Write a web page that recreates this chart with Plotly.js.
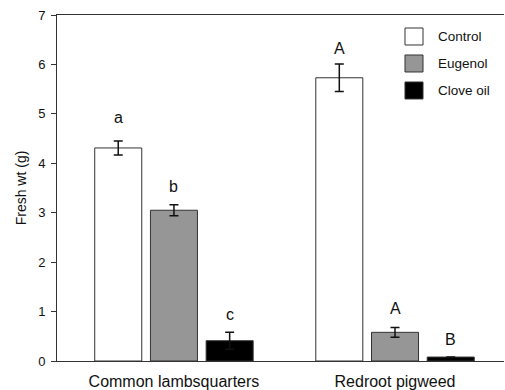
<!DOCTYPE html>
<html>
<head>
<meta charset="utf-8">
<script src="https://cdn.plot.ly/plotly-3.0.1.min.js"></script>
<style>html,body{margin:0;padding:0;background:#fff;}#chart{width:505px;height:390px;}</style>
</head>
<body>
<div id="chart"></div>
<script>
// ---- data ----
var categories = ["Common lambsquarters", "Redroot pigweed"];
var seriesNames = ["Control", "Eugenol", "Clove oil"];
var controlVals = [4.31, 5.73];
var controlErr = [0.14, 0.28];
var eugenolVals = [3.05, 0.58];
var eugenolErr = [0.11, 0.10];
var cloveVals = [0.41, 0.08];
var cloveErr = [0.17, 0];
var controlLetters = ["a", "A"];
var eugenolLetters = ["b", "A"];
var cloveLetters = ["c", "B"];
var controlLetterY = [4.92, 6.33];
var eugenolLetterY = [3.54, 1.06];
var cloveLetterY = [0.95, 0.43];
var yTicks = [0, 1, 2, 3, 4, 5, 6, 7];

// ---- styling ----
var fills = ["#ffffff", "#969696", "#000000"];
var bargap = 0.244, bargroupgap = 0.156;
var font = "Liberation Sans, Arial, Helvetica, sans-serif";

var vals = [controlVals, eugenolVals, cloveVals];
var errs = [controlErr, eugenolErr, cloveErr];
var letters = [controlLetters, eugenolLetters, cloveLetters];
var letterY = [controlLetterY, eugenolLetterY, cloveLetterY];

var traces = seriesNames.map(function (n, i) {
  return {
    type: "bar", name: n, x: categories, y: vals[i],
    marker: {color: fills[i], line: {color: "#333333", width: 1}},
    error_y: {type: "data", array: errs[i], visible: true, color: "#111111", thickness: 1.5, width: 4.5},
    showlegend: false, hoverinfo: "skip"
  };
});

var slot = (1 - bargap) / seriesNames.length;
var annotations = [];
seriesNames.forEach(function (n, i) {
  categories.forEach(function (c, j) {
    annotations.push({
      xref: "x", yref: "y", x: j + (i - 1) * slot, y: letterY[i][j],
      text: letters[i][j], showarrow: false, xanchor: "center", yanchor: "middle",
      font: {family: font, size: 16, color: "#111"}
    });
  });
});

// legend drawn as boxes + labels
var shapes = [];
var lx0 = 0.7785, lx1 = 0.8188, ly0 = 0.9624, lh = 0.0491, lstep = 0.078;
seriesNames.forEach(function (n, i) {
  var top = ly0 - i * lstep;
  shapes.push({type: "rect", xref: "paper", yref: "paper", x0: lx0, x1: lx1, y0: top - lh, y1: top,
    fillcolor: fills[i], line: {color: "#333333", width: 1}});
  annotations.push({xref: "paper", yref: "paper", x: 0.848, y: top - lh / 2, text: n,
    showarrow: false, xanchor: "left", yanchor: "middle",
    font: {family: font, size: 13.5, color: "#111"}});
});

var layout = {
  width: 505, height: 390,
  margin: {l: 57, r: 1, t: 15, b: 29},
  paper_bgcolor: "#ffffff", plot_bgcolor: "#ffffff",
  barmode: "group", bargap: bargap, bargroupgap: bargroupgap,
  font: {family: font, color: "#111"},
  xaxis: {
    type: "category", range: [-0.529, 1.493], showline: true, mirror: true,
    linecolor: "#333333", linewidth: 1, ticks: "", showgrid: false, zeroline: false,
    tickfont: {family: font, size: 16, color: "#111"}, ticklabelstandoff: 6, automargin: false
  },
  yaxis: {
    range: [0, 7], tickvals: yTicks, ticks: "outside", ticklen: 5, tickwidth: 1, tickcolor: "#333",
    showline: true, linecolor: "#333333", linewidth: 1, showgrid: false, zeroline: false,
    tickfont: {family: font, size: 13, color: "#111"}, ticklabelstandoff: 3, automargin: false,
    title: {text: "Fresh wt (g)", font: {family: font, size: 14, color: "#111"}, standoff: 8}
  },
  shapes: shapes,
  annotations: annotations,
  showlegend: false
};

Plotly.newPlot("chart", traces, layout, {displayModeBar: false, staticPlot: true});
</script>
</body>
</html>
